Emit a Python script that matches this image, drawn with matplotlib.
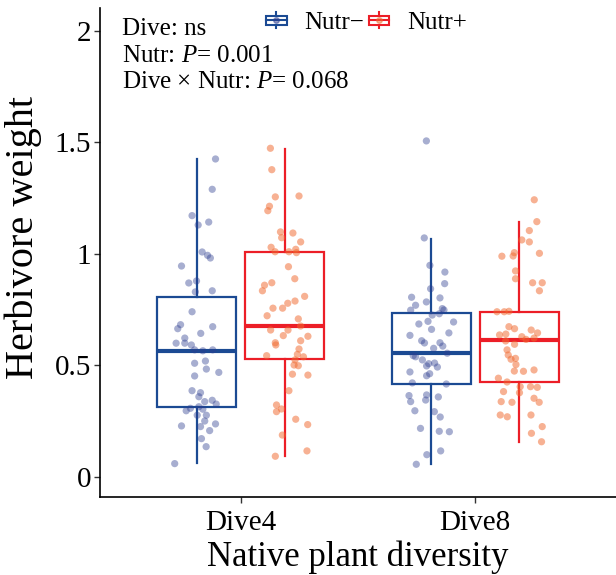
import matplotlib
matplotlib.use("Agg")
import matplotlib.pyplot as plt
from matplotlib.patches import Patch, Rectangle
from matplotlib.lines import Line2D
from matplotlib.legend_handler import HandlerBase

plt.rcParams['font.family'] = ['Liberation Serif', 'DejaVu Serif']
plt.rcParams['mathtext.fontset'] = 'custom'
plt.rcParams['mathtext.rm'] = 'Liberation Serif'
plt.rcParams['mathtext.it'] = 'Liberation Serif:italic'

# -------------------------------
# DATA
# -------------------------------
diversity = ["Dive4", "Dive8"]
nutr_levels = ["Nutr\u2212", "Nutr+"]

# box statistics per group: Dive4/Nutr-, Dive4/Nutr+, Dive8/Nutr-, Dive8/Nutr+
whisk_lo = [0.063, 0.094, 0.058, 0.157]
q1 = [0.314, 0.529, 0.417, 0.426]
median = [0.565, 0.677, 0.556, 0.614]
q3 = [0.807, 1.009, 0.735, 0.740]
whisk_hi = [1.426, 1.471, 1.067, 1.143]

# raw observations (y) and their horizontal jitter
d4_minus_y = [1.426, 1.290, 1.172, 1.130, 1.143, 1.009, 0.994, 0.982, 0.946, 0.870,
              0.879, 0.830, 0.835, 0.741, 0.683, 0.665, 0.674, 0.644, 0.623, 0.600,
              0.600, 0.592, 0.570, 0.566, 0.570, 0.510, 0.520, 0.484, 0.469, 0.453,
              0.387, 0.378, 0.360, 0.338, 0.344, 0.327, 0.308, 0.297, 0.315, 0.304,
              0.277, 0.277, 0.251, 0.238, 0.229, 0.226, 0.208, 0.172, 0.136, 0.060]
d4_minus_jit = [0.080, 0.066, -0.020, 0.006, 0.051, 0.023, 0.046, 0.058, -0.065, -0.034,
                -0.001, -0.006, 0.066, -0.020, -0.069, -0.081, 0.068, 0.017, -0.051, -0.088,
                -0.051, -0.023, -0.009, 0.026, 0.068, -0.009, 0.037, 0.041, 0.094, -0.009,
                -0.020, 0.016, 0.009, 0.034, 0.066, 0.083, -0.027, -0.045, 0.009, 0.026,
                0.002, 0.041, 0.034, 0.080, -0.065, 0.016, 0.055, 0.020, 0.040, -0.094]

d4_plus_y = [1.474, 1.378, 1.256, 1.260, 1.214, 1.194, 1.099, 1.073, 1.094, 1.054,
             1.030, 1.010, 1.010, 1.021, 1.006, 0.943, 0.889, 0.871, 0.860, 0.835,
             0.810, 0.789, 0.779, 0.757, 0.757, 0.723, 0.709, 0.677, 0.659, 0.659,
             0.634, 0.631, 0.611, 0.602, 0.592, 0.574, 0.544, 0.550, 0.539, 0.525,
             0.502, 0.499, 0.461, 0.457, 0.387, 0.323, 0.293, 0.305, 0.259, 0.235,
             0.188, 0.117, 0.093]
d4_plus_jit = [-0.061, -0.055, -0.040, 0.061, -0.065, -0.072, -0.018, -0.013, 0.035, 0.068,
               -0.058, -0.041, 0.018, 0.047, 0.050, 0.016, 0.043, -0.055, -0.086, -0.095,
               0.085, 0.044, 0.013, -0.009, -0.050, -0.075, 0.058, 0.068, -0.060, 0.014,
               -0.006, 0.099, 0.068, -0.040, -0.038, 0.061, -0.077, 0.054, 0.080, 0.044,
               0.040, 0.058, 0.033, 0.099, 0.018, -0.035, -0.035, -0.014, 0.047, 0.098,
               -0.010, 0.095, -0.040]

d8_minus_y = [1.507, 1.072, 0.949, 0.919, 0.867, 0.844, 0.806, 0.803, 0.785, 0.770,
              0.748, 0.755, 0.749, 0.732, 0.726, 0.695, 0.698, 0.686, 0.662, 0.646,
              0.635, 0.611, 0.601, 0.602, 0.587, 0.577, 0.544, 0.539, 0.555, 0.525,
              0.508, 0.511, 0.498, 0.493, 0.471, 0.454, 0.463, 0.422, 0.417, 0.365,
              0.368, 0.359, 0.338, 0.345, 0.297, 0.293, 0.269, 0.218, 0.205, 0.203,
              0.100, 0.117, 0.057]
d8_minus_jit = [-0.021, -0.030, -0.006, 0.058, 0.057, -0.003, -0.084, 0.037, -0.021, -0.067,
                -0.088, 0.047, 0.054, 0.034, 0.004, 0.095, -0.014, -0.053, 0.001, 0.075,
                -0.091, -0.041, -0.029, 0.037, 0.049, 0.010, -0.077, -0.067, 0.068, -0.038,
                -0.011, 0.014, -0.020, 0.026, -0.091, -0.020, -0.007, -0.081, 0.064, -0.095,
                -0.020, 0.030, -0.088, -0.024, -0.070, 0.013, 0.038, -0.046, 0.034, 0.077,
                -0.019, 0.040, -0.064]

d8_plus_y = [1.243, 1.145, 1.105, 1.063, 1.054, 1.003, 1.006, 0.990, 0.991, 0.924,
             0.889, 0.871, 0.871, 0.835, 0.741, 0.741, 0.743, 0.674, 0.665, 0.637,
             0.641, 0.659, 0.646, 0.629, 0.617, 0.623, 0.610, 0.595, 0.570, 0.547,
             0.532, 0.528, 0.504, 0.475, 0.474, 0.480, 0.443, 0.426, 0.405, 0.405,
             0.402, 0.383, 0.378, 0.338, 0.335, 0.353, 0.335, 0.278, 0.270, 0.278,
             0.226, 0.196, 0.158]
d8_plus_jit = [0.064, 0.075, 0.043, 0.011, 0.043, 0.086, -0.021, -0.074, -0.026, -0.016,
               -0.016, 0.057, 0.098, 0.086, -0.095, -0.064, -0.044, -0.044, -0.020, -0.084,
               -0.057, 0.051, 0.078, 0.011, 0.029, 0.063, -0.058, -0.020, -0.052, -0.047,
               -0.016, -0.035, -0.014, -0.021, 0.018, 0.063, -0.089, -0.052, 0.004, 0.048,
               0.077, -0.067, 0.001, -0.077, -0.031, 0.063, 0.085, -0.081, -0.051, 0.050,
               0.098, 0.052, 0.095]

# -------------------------------
# STYLE
# -------------------------------
BOX_COLORS = ["#1B4A93", "#EC1E27"]
PT_COLORS = ["#2E3E90", "#F06A30"]
PT_ALPHA = [0.42, 0.52]
DODGE = 0.1875
BOX_W = 0.3375


class BoxIconHandler(HandlerBase):
    """Small boxplot glyph for the legend."""
    def create_artists(self, legend, orig_handle, xdescent, ydescent,
                       width, height, fontsize, trans):
        ec = orig_handle.get_edgecolor()
        pc = orig_handle.get_facecolor()
        x0, y0 = -xdescent, -ydescent
        arts = [
            Rectangle((x0, y0 + 0.2 * height), width, 0.6 * height,
                      facecolor="white", edgecolor=ec, lw=1.5),
            Line2D([x0, x0 + width], [y0 + 0.5 * height] * 2, color=ec, lw=1.5),
            Line2D([x0 + width / 2] * 2, [y0 - 0.05 * height, y0 + 0.2 * height], color=ec, lw=1.5),
            Line2D([x0 + width / 2] * 2, [y0 + 0.8 * height, y0 + 1.05 * height], color=ec, lw=1.5),
            Line2D([x0 + width / 2], [y0 + 0.5 * height], marker="o", ms=4,
                   color=pc, alpha=0.5, lw=0),
        ]
        for a in arts:
            a.set_transform(trans)
        return arts


fig = plt.figure(figsize=(6.16, 5.75), dpi=100)
ax = fig.add_axes([100 / 616, 78 / 575, 516 / 616, 489 / 575])

positions = [1 - DODGE, 1 + DODGE, 2 - DODGE, 2 + DODGE]
stats = []
for i in range(4):
    stats.append(dict(whislo=whisk_lo[i], q1=q1[i], med=median[i], q3=q3[i],
                      whishi=whisk_hi[i], fliers=[]))

for i in range(4):
    c = BOX_COLORS[i % 2]
    ax.bxp([stats[i]], positions=[positions[i]], widths=BOX_W, showfliers=False,
           showcaps=False, patch_artist=True,
           boxprops=dict(facecolor="white", edgecolor=c, linewidth=1.6),
           whiskerprops=dict(color=c, linewidth=1.6),
           medianprops=dict(color=c, linewidth=3.0, solid_capstyle="butt"))

groups = [(d4_minus_y, d4_minus_jit), (d4_plus_y, d4_plus_jit),
          (d8_minus_y, d8_minus_jit), (d8_plus_y, d8_plus_jit)]
for i, (ys, js) in enumerate(groups):
    xs = [positions[i] + j for j in js]
    ax.scatter(xs, ys, s=27, color=PT_COLORS[i % 2], alpha=PT_ALPHA[i % 2],
               edgecolors="none", zorder=3)

ax.set_xlim(0.4, 2.6)
ax.set_ylim(-0.0897, 2.103)
ax.set_xticks([1, 2])
ax.set_xticklabels(diversity, fontsize=21)
ax.set_yticks([0, 0.5, 1, 1.5, 2])
ax.set_yticklabels(["0", "0.5", "1", "1.5", "2"], fontsize=21)
ax.tick_params(direction="out", length=4.5, width=1.0, color="#333333")
ax.tick_params(axis="x", pad=5)
ax.tick_params(axis="y", pad=2)
for side in ["top", "right"]:
    ax.spines[side].set_visible(False)
for side in ["left", "bottom"]:
    ax.spines[side].set_linewidth(1.2)
    ax.spines[side].set_color("black")

ax.set_xlabel("Native plant diversity", fontsize=25, labelpad=3)
ax.set_ylabel("Herbivore weight", fontsize=29)
ax.yaxis.set_label_coords(-0.113, 0.53)

# statistics text
fig.text(122 / 616, 1 - 35 / 575, "Dive: ns", fontsize=18, va="baseline")
fig.text(122 / 616, 1 - 62 / 575, "Nutr: $P$= 0.001", fontsize=18, va="baseline")
fig.text(122 / 616, 1 - 88 / 575, "Dive \u00d7 Nutr: $P$= 0.068", fontsize=18, va="baseline")

handles = [Patch(edgecolor=BOX_COLORS[k], facecolor=PT_COLORS[k]) for k in range(2)]
fig.legend(handles, nutr_levels, handler_map={Patch: BoxIconHandler()},
           loc="center left", bbox_to_anchor=(266 / 616, 1 - 23 / 575),
           ncol=2, frameon=False, fontsize=18, handlelength=0.82, handleheight=0.55,
           handletextpad=0.7, columnspacing=0.2, borderpad=0, borderaxespad=0)

fig.savefig("out.png", dpi=100)
